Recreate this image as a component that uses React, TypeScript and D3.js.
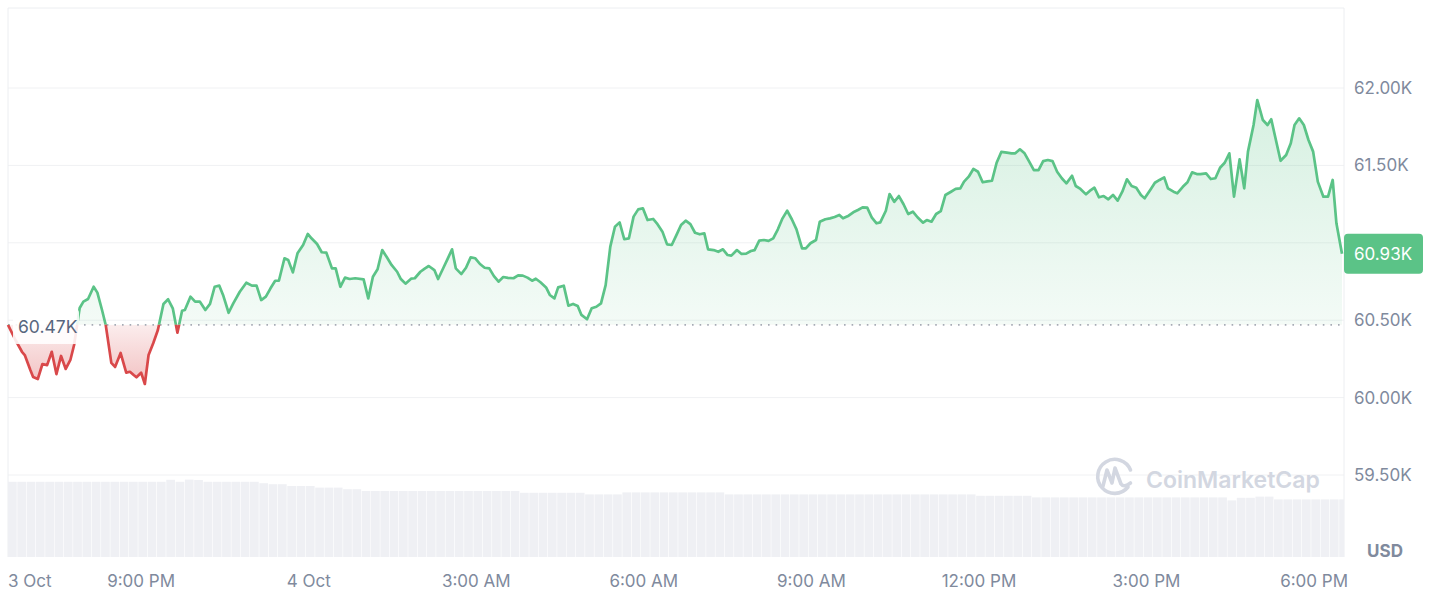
import React from 'react';
import * as d3 from 'd3';

// ---------- DATA ----------
const START = new Date(2024, 9, 3, 18, 37);
const END_OFFSET_MIN = 1433;
const OPEN_PRICE = 60470; // reference (24h-ago) price, 60.47K
const LAST_PRICE = 60930;

// minutes after START
const minuteOffsets = [
  0, 8, 15, 18, 24, 27, 32, 37, 42, 47, 52, 57, 62, 67, 71, 77, 81, 86, 92, 96,
  101, 105, 111, 115, 121, 127, 131, 135, 138, 143, 147, 151, 156, 161, 167, 172, 177, 182, 187, 190,
  196, 201, 206, 212, 217, 222, 227, 231, 237, 242, 249, 256, 262, 267, 272, 277, 282, 287, 291, 297,
  301, 306, 311, 317, 322, 326, 332, 337, 342, 348, 352, 357, 362, 367, 373, 382, 387, 392, 397, 402,
  407, 412, 418, 422, 427, 433, 437, 443, 448, 452, 458, 462, 468, 472, 477, 481, 487, 492, 497, 502,
  507, 512, 517, 522, 527, 532, 537, 543, 548, 553, 558, 563, 567, 572, 578, 582, 587, 591, 597, 602,
  607, 612, 616, 622, 627, 632, 637, 642, 647, 652, 657, 662, 667, 672, 677, 682, 687, 693, 697, 703,
  708, 713, 718, 723, 728, 733, 738, 743, 748, 752, 758, 763, 768, 773, 777, 783, 788, 793, 798, 802,
  807, 812, 817, 822, 827, 832, 837, 842, 847, 853, 857, 862, 868, 872, 878, 883, 888, 893, 897, 903,
  908, 913, 918, 923, 928, 933, 937, 943, 947, 952, 957, 962, 967, 972, 977, 983, 987, 992, 997, 1002,
  1007, 1013, 1018, 1023, 1027, 1032, 1037, 1042, 1047, 1052, 1057, 1062, 1067, 1073, 1078, 1082, 1087, 1092, 1097, 1102,
  1107, 1112, 1117, 1122, 1127, 1132, 1137, 1143, 1147, 1152, 1158, 1162, 1167, 1172, 1177, 1182, 1187, 1192, 1197, 1202,
  1207, 1212, 1217, 1221, 1227, 1232, 1237, 1242, 1246, 1252, 1256, 1262, 1267, 1272, 1277, 1281, 1287, 1292, 1297, 1302,
  1307, 1312, 1317, 1323, 1328, 1332, 1338, 1342, 1348, 1353, 1357, 1362, 1367, 1373, 1378, 1382, 1387, 1392, 1397, 1402,
  1407, 1413, 1418, 1423, 1427, 1433,
];

const prices = [
  60470, 60372, 60296, 60275, 60178, 60133, 60120, 60217, 60210, 60296, 60152, 60269, 60185, 60243, 60340, 60579, 60620, 60637, 60716, 60678,
  60566, 60469, 60224, 60198, 60288, 60161, 60167, 60146, 60131, 60161, 60088, 60275, 60351, 60437, 60605, 60635, 60577, 60419, 60561, 60566,
  60652, 60620, 60620, 60566, 60605, 60716, 60723, 60663, 60548, 60609, 60684, 60742, 60723, 60723, 60630, 60652, 60706, 60755, 60755, 60900,
  60889, 60809, 60932, 60986, 61057, 61029, 60992, 60939, 60936, 60835, 60835, 60716, 60775, 60766, 60771, 60764, 60641, 60781, 60829, 60953,
  60906, 60857, 60813, 60766, 60736, 60768, 60771, 60813, 60835, 60850, 60824, 60766, 60842, 60893, 60958, 60835, 60798, 60839, 60906, 60900,
  60863, 60839, 60835, 60785, 60749, 60779, 60773, 60771, 60790, 60788, 60775, 60755, 60768, 60745, 60712, 60663, 60641, 60712, 60723, 60594,
  60605, 60592, 60534, 60506, 60577, 60587, 60609, 60727, 60975, 61104, 61132, 61023, 61029, 61169, 61216, 61223, 61147, 61154, 61126, 61072,
  60990, 60986, 61050, 61115, 61143, 61121, 61065, 61055, 61061, 60958, 60953, 60942, 60958, 60921, 60917, 60953, 60928, 60930, 60947, 60953,
  61014, 61018, 61012, 61029, 61087, 61158, 61207, 61152, 61087, 60964, 60964, 60997, 61018, 61136, 61152, 61158, 61167, 61180, 61158, 61175,
  61197, 61212, 61229, 61227, 61162, 61126, 61132, 61207, 61315, 61265, 61302, 61249, 61186, 61201, 61165, 61130, 61147, 61136, 61186, 61205,
  61309, 61330, 61348, 61352, 61395, 61427, 61477, 61459, 61391, 61397, 61401, 61517, 61587, 61582, 61578, 61578, 61604, 61578, 61524, 61470,
  61470, 61528, 61535, 61528, 61459, 61417, 61384, 61433, 61367, 61348, 61313, 61335, 61356, 61294, 61302, 61281, 61309, 61272, 61330, 61410,
  61367, 61356, 61309, 61287, 61341, 61388, 61406, 61423, 61352, 61330, 61320, 61362, 61391, 61455, 61444, 61444, 61449, 61412, 61417, 61485,
  61517, 61578, 61298, 61539, 61352, 61589, 61761, 61922, 61793, 61761, 61798, 61664, 61530, 61567, 61643, 61761, 61804, 61761, 61664, 61589,
  61395, 61298, 61298, 61406, 61126, 60930,
];

// 24h rolling volume, billions USD, one bar per 10 minutes
const VOLUME_INTERVAL_MIN = 10;
const volumes = [
  37.6, 37.6, 37.6, 37.6, 37.6, 37.6, 37.6, 37.6, 37.6, 37.6, 37.6, 37.6, 37.6, 37.6, 37.6, 37.6, 37.6,
  38.6, 37.6, 38.7, 38.5,
  37.6, 37.6, 37.6, 37.6, 37.6, 37.6,
  36.9, 36.4, 36.4, 35.5, 35.5, 35.5, 34.7, 34.7, 34.7, 33.9, 33.9,
  33.0, 33.0, 33.0, 33.0, 33.0, 33.0, 33.0, 33.0, 33.0, 33.0, 33.0, 33.0, 33.0, 33.0, 33.0, 33.0, 33.0,
  32.1, 32.1, 32.1, 32.1, 32.1, 32.1, 32.1,
  31.3, 31.3, 31.3, 31.3,
  32.3, 32.3, 32.3, 32.3, 32.3, 32.3, 32.3, 32.3, 32.3, 32.3, 32.3,
  31.3, 31.3, 31.3, 31.3, 31.3, 31.3, 31.3, 31.3, 31.3, 31.3, 31.3, 31.3, 31.3, 31.3, 31.3, 31.3, 31.3, 31.3, 31.3, 31.3, 31.3, 31.3, 31.3, 31.3, 31.3, 31.3, 31.3,
  30.6, 30.6, 30.6, 30.6, 30.6, 30.6,
  29.8, 29.8, 29.8, 29.8, 29.8, 29.8, 29.8, 29.8, 29.8, 29.8, 29.8, 29.8, 29.8, 29.8, 29.8, 29.8, 29.8, 29.8, 29.8, 29.8, 29.8,
  28.3, 29.6, 29.6, 30.2, 30.2,
  28.8, 28.8, 28.8, 28.8, 28.8, 28.8, 28.8, 28.8,
];

const yTickValues = [59500, 60000, 60500, 61000, 61500, 62000];
const yTickLabels = ['59.50K', '60.00K', '60.50K', '61.00K', '61.50K', '62.00K'];

const xTickTimes = [
  new Date(2024, 9, 3, 21, 0),
  new Date(2024, 9, 4, 0, 0),
  new Date(2024, 9, 4, 3, 0),
  new Date(2024, 9, 4, 6, 0),
  new Date(2024, 9, 4, 9, 0),
  new Date(2024, 9, 4, 12, 0),
  new Date(2024, 9, 4, 15, 0),
  new Date(2024, 9, 4, 18, 0),
];
const xTickLabels = ['9:00 PM', '4 Oct', '3:00 AM', '6:00 AM', '9:00 AM', '12:00 PM', '3:00 PM', '6:00 PM'];
const startLabel = '3 Oct';

// ---------- STYLE ----------
const W = 1436;
const H = 602;
const PLOT = { left: 8, right: 1344, top: 8, bottom: 557 };
const GREEN = '#5bc387';
const RED = '#d9484a';
const AXIS_TEXT = '#808a9d';
const GRID = '#f0f1f3';
const FONT = 'Inter, "Noto Sans", sans-serif';

const addMin = (m: number) => new Date(START.getTime() + m * 60000);

export default function App() {
  const x = d3.scaleTime().domain([START, addMin(END_OFFSET_MIN)]).range([8, 1342]);
  const y = d3.scaleLinear().domain([59500, 62000]).range([475, 88]);
  const yVol = d3.scaleLinear().domain([0, 40]).range([PLOT.bottom, 477]);

  const pts = minuteOffsets.map((m, i) => ({ t: addMin(m), p: prices[i] }));
  const baseY = y(OPEN_PRICE);

  const line = d3.line<{ t: Date; p: number }>().x((d) => x(d.t)).y((d) => y(d.p));
  const area = d3
    .area<{ t: Date; p: number }>()
    .x((d) => x(d.t))
    .y0(baseY)
    .y1((d) => y(d.p));

  const linePath = line(pts) || '';
  const areaPath = area(pts) || '';

  const volStep = x(addMin(VOLUME_INTERVAL_MIN)) - x(START);
  const lastY = y(LAST_PRICE);

  // the last-price tag hides any axis label it sits on
  const visibleTicks = yTickValues
    .map((v, i) => ({ v, label: yTickLabels[i] }))
    .filter((d) => Math.abs(y(d.v) - lastY) > 22);

  return (
    <svg
      width={W}
      height={H}
      style={{ position: 'absolute', left: 0, top: 0, background: '#fff' }}
      fontFamily={FONT}
    >
      <defs>
        <clipPath id="plotClip">
          <rect x={PLOT.left} y={PLOT.top} width={PLOT.right - PLOT.left} height={PLOT.bottom - PLOT.top} />
        </clipPath>
        <clipPath id="aboveClip">
          <rect x={0} y={0} width={W} height={baseY} />
        </clipPath>
        <clipPath id="belowClip">
          <rect x={0} y={baseY} width={W} height={H - baseY} />
        </clipPath>
        <linearGradient id="greenFill" gradientUnits="userSpaceOnUse" x1="0" y1={y(62000)} x2="0" y2={baseY}>
          <stop offset="0" stopColor={GREEN} stopOpacity={0.26} />
          <stop offset="1" stopColor={GREEN} stopOpacity={0.07} />
        </linearGradient>
        <linearGradient id="redFill" gradientUnits="userSpaceOnUse" x1="0" y1={baseY} x2="0" y2={y(60050)}>
          <stop offset="0" stopColor={RED} stopOpacity={0.1} />
          <stop offset="1" stopColor={RED} stopOpacity={0.36} />
        </linearGradient>
      </defs>

      {/* grid */}
      {yTickValues.map((v) => (
        <line key={v} x1={PLOT.left} x2={PLOT.right} y1={y(v)} y2={y(v)} stroke={GRID} strokeWidth={1} />
      ))}
      {/* frame */}
      <path
        d={`M${PLOT.left},${PLOT.bottom} V${PLOT.top} H${PLOT.right} V${PLOT.bottom}`}
        fill="none"
        stroke="#eceef1"
        strokeWidth={1}
      />

      {/* volume bars */}
      <g clipPath="url(#plotClip)">
        {volumes.map((v, i) => {
          const x0 = x(addMin(i * VOLUME_INTERVAL_MIN));
          return (
            <rect
              key={i}
              x={x0}
              y={yVol(v)}
              width={Math.max(1, volStep - 0.6)}
              height={PLOT.bottom - yVol(v)}
              fill="#eff0f4"
            />
          );
        })}
      </g>

      {/* watermark */}
      <g>
        <g fill="none" stroke="#d3d7e1" strokeWidth={3.6} strokeLinecap="round" strokeLinejoin="round">
          <path d="M1130.5,470 A17,17 0 1 0 1128,487" />
          <path d="M1103,486 L1107,470 L1112,483 L1115,468 L1121,484 Q1124,488 1130.5,483" />
        </g>
        <text x={1146} y={480} dominantBaseline="central" fontSize={23} fontWeight={600} fill="#d3d7e1">
          CoinMarketCap
        </text>
      </g>

      {/* areas */}
      <g clipPath="url(#plotClip)">
        <path d={areaPath} fill="url(#greenFill)" clipPath="url(#aboveClip)" />
        <path d={areaPath} fill="url(#redFill)" clipPath="url(#belowClip)" />
      </g>

      {/* baseline */}
      <line
        x1={PLOT.left}
        x2={PLOT.right}
        y1={baseY}
        y2={baseY}
        stroke="#a6abb5"
        strokeWidth={1.6}
        strokeDasharray="1.6 6"
      />

      {/* lines */}
      <path d={linePath} fill="none" stroke={GREEN} strokeWidth={2.7} strokeLinejoin="round" clipPath="url(#aboveClip)" />
      <path d={linePath} fill="none" stroke={RED} strokeWidth={2.7} strokeLinejoin="round" clipPath="url(#belowClip)" />

      {/* open price label */}
      <rect x={13} y={309} width={66} height={35} rx={4} fill="#fff" opacity={0.88} />
      <text x={18} y={baseY + 2} dominantBaseline="central" fontSize={17.5} fill="#58667e">
        {(OPEN_PRICE / 1000).toFixed(2)}K
      </text>

      {/* y axis labels */}
      {visibleTicks.map((d) => (
        <text key={d.v} x={1354} y={y(d.v)} dominantBaseline="central" fontSize={17} fill={AXIS_TEXT}>
          {d.label}
        </text>
      ))}
      <text x={1385} y={551} textAnchor="middle" dominantBaseline="central" fontSize={17} fontWeight={700} fill={AXIS_TEXT}>
        USD
      </text>

      {/* last price tag */}
      <rect x={1344} y={lastY - 20} width={79} height={40} rx={4} fill={GREEN} />
      <text x={1354} y={lastY + 0.5} dominantBaseline="central" fontSize={17} fill="#fff">
        {(LAST_PRICE / 1000).toFixed(2)}K
      </text>

      {/* x axis labels */}
      <text x={x(START)} y={581} dominantBaseline="central" fontSize={17} fill={AXIS_TEXT}>
        {startLabel}
      </text>
      {xTickTimes.map((t, i) => (
        <text key={i} x={x(t)} y={581} textAnchor="middle" dominantBaseline="central" fontSize={17} fill={AXIS_TEXT}>
          {xTickLabels[i]}
        </text>
      ))}
    </svg>
  );
}
